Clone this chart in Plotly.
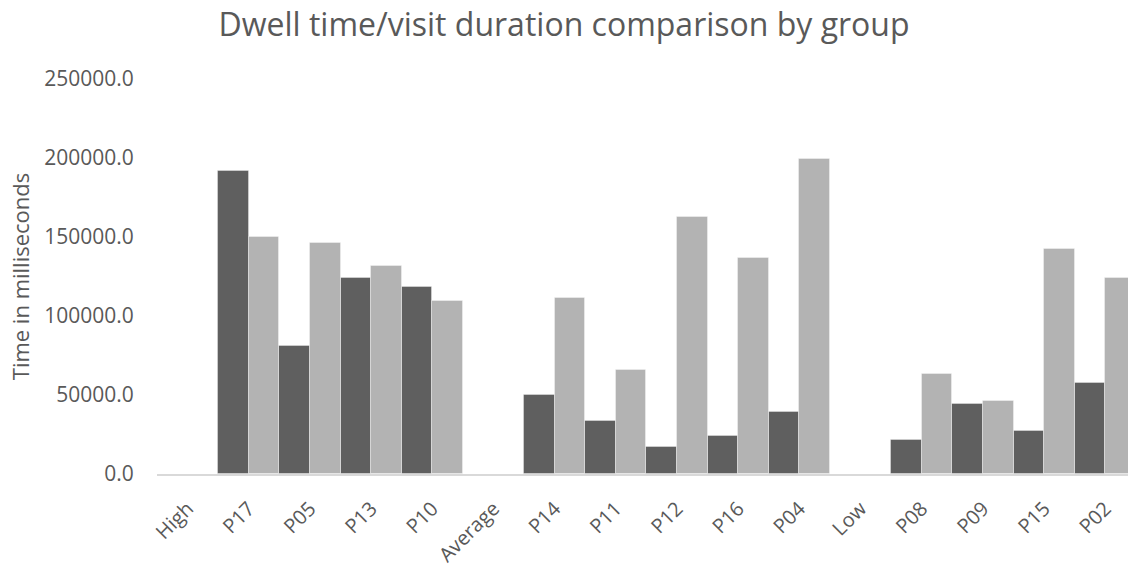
import plotly.graph_objects as go

# Participants grouped by level; group headers carry no bars
categories = ["High", "P17", "P05", "P13", "P10",
              "Average", "P14", "P11", "P12", "P16", "P04",
              "Low", "P08", "P09", "P15", "P02"]

# Dwell time per participant (ms)
dwell_time = [None, 191500, 80700, 123900, 118200,
              None, 50000, 33300, 17000, 24300, 39200,
              None, 21800, 44000, 27000, 57400]

# Visit duration per participant (ms)
visit_duration = [None, 150000, 146100, 131400, 109200,
                  None, 111700, 66000, 162500, 136900, 199400,
                  None, 63500, 46500, 142300, 124300]

y_ticks = [0, 50000, 100000, 150000, 200000, 250000]

TEXT = "#595959"
FONT = "Open Sans, Noto Sans, sans-serif"

fig = go.Figure()
fig.add_trace(go.Bar(
    x=categories, y=dwell_time, name="Dwell time",
    marker=dict(color="#5f5f5f", line=dict(color="rgba(255,255,255,0.35)", width=1)),
))
fig.add_trace(go.Bar(
    x=categories, y=visit_duration, name="Visit duration",
    marker=dict(color="#b3b3b3", line=dict(color="rgba(255,255,255,0.35)", width=1)),
))

fig.update_layout(
    width=1128, height=568,
    margin=dict(l=157, r=0, t=79, b=91),
    paper_bgcolor="white", plot_bgcolor="white",
    barmode="group", bargap=0, bargroupgap=0,
    showlegend=False,
    font=dict(family=FONT, color=TEXT),
    title=dict(
        text="Dwell time/visit duration comparison by group",
        x=0.5, xref="container", y=0.956, yref="container",
        xanchor="center", yanchor="middle",
        font=dict(size=32, color=TEXT, family=FONT),
    ),
)

fig.update_xaxes(
    type="category", range=[-0.5, 15.37],
    showgrid=False, showline=True, linecolor="#d9d9d9", linewidth=2,
    ticks="outside", ticklen=13, tickcolor="rgba(0,0,0,0)",
    tickangle=-45, tickfont=dict(size=20, color=TEXT),
)
fig.update_yaxes(
    range=[0, 250000], tickvals=y_ticks,
    ticktext=[f"{v:.1f}" for v in y_ticks],
    showgrid=False, zeroline=False, showline=False,
    ticks="outside", ticklen=18, tickcolor="rgba(0,0,0,0)",
    tickfont=dict(size=21, color=TEXT),
    title=dict(text="Time in milliseconds", font=dict(size=22, color=TEXT), standoff=8),
)

fig.write_html("out.html", config={"displayModeBar": False})
